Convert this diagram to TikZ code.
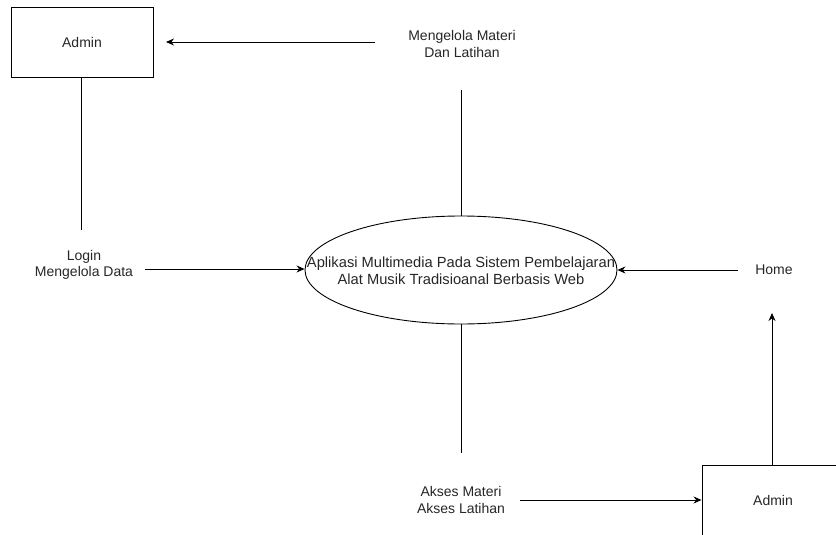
\documentclass[tikz,border=0pt]{standalone}
\usepackage{fontspec}
\setmainfont{Liberation Sans}
\usetikzlibrary{arrows.meta,shapes.geometric}
\begin{document}
\begin{tikzpicture}[x=1pt,y=-1pt,
  every node/.style={font=\fontsize{14}{16.5}\selectfont, text=black!85, align=center},
  entbox/.style={draw, line width=0.9pt, minimum width=142pt, minimum height=70pt, inner sep=0pt},
  proc/.style={draw, ellipse, line width=0.9pt, minimum width=312pt, minimum height=108pt, inner sep=0pt},
  proctxt/.style={font=\fontsize{14.7}{17}\selectfont, inner sep=0pt},
  lbl/.style={inner sep=1pt},
  flow/.style={line width=0.9pt, -{Stealth[length=8pt,width=7pt]}},
  plain/.style={line width=0.9pt}]
\useasboundingbox (0,0) rectangle (836,535);
\clip (0,0) rectangle (836,535);
\node[entbox] (admin1) at (82,42) {Admin};
\node[entbox] (admin2) at (773,500) {Admin};
\node[proc] (sys) at (461,270) {};
\node[proctxt] (systxt) at (461,270.5) {Aplikasi Multimedia Pada Sistem Pembelajaran\\Alat Musik Tradisioanal Berbasis Web};
\node[lbl] (mengelola) at (462,44) {Mengelola Materi\\Dan Latihan};
\node[lbl] (login) at (84,265) {Login\\Mengelola Data};
\node[lbl] (home) at (774,270) {Home};
\node[lbl] (akses) at (461,500) {Akses Materi\\Akses Latihan};
\coordinate (mA) at (375,42);
\coordinate (mB) at (461,90);
\coordinate (lA) at (81,230);
\coordinate (lB) at (145,269);
\coordinate (hA) at (738,270);
\coordinate (hB) at (772,313);
\coordinate (aA) at (461,453);
\coordinate (aB) at (520,500);
\draw[flow] (mA) -- (admin1.east -| 166,0);
\draw[plain] (mB) -- (sys.north);
\draw[plain] (admin1.south -| lA) -- (lA);
\draw[flow] (lB) -- (sys.west |- lB);
\draw[flow] (hA) -- (sys.east);
\draw[flow] (admin2.north -| hB) -- (hB);
\draw[plain] (sys.south) -- (aA);
\draw[flow] (aB) -- (admin2.west);
\end{tikzpicture}
\end{document}
